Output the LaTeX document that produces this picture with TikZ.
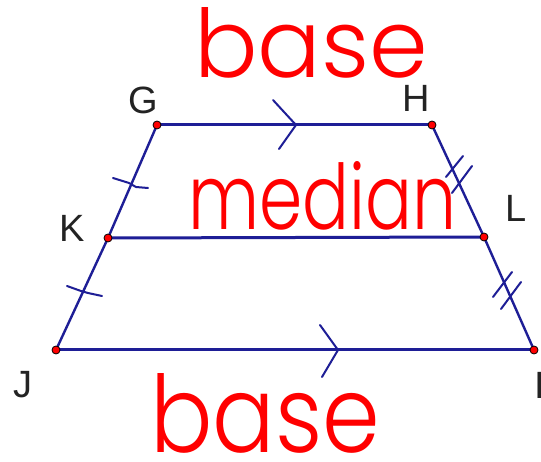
\documentclass[tikz,border=0pt]{standalone}
\usepackage{fontspec}
\newfontfamily\labfont{Liberation Sans}
\newfontfamily\handfont{Poppins Light}
\definecolor{geoblue}{RGB}{30,30,150}
\definecolor{handred}{RGB}{255,0,0}
\definecolor{labgray}{RGB}{35,35,35}
\begin{document}
\begin{tikzpicture}[x=1pt,y=-1pt,
  ptmark/.style={circle,fill=red,draw=black,line width=0.8pt,inner sep=0pt,minimum size=8pt},
  baseseg/.style={draw=geoblue,line width=3pt},
  sideseg/.style={draw=geoblue,line width=2.4pt},
  tickmark/.style={draw=geoblue,line width=2pt,line cap=round},
  lab/.style={font=\labfont\fontsize{38}{38}\selectfont,text=labgray,inner sep=0pt},
  hand/.style={font=\handfont\fontsize{100}{100}\selectfont,text=handred,inner sep=0pt,anchor=base west}]
\useasboundingbox (0,0) rectangle (541,462);
\fill[white] (0,0) rectangle (541,462);
% vertices
\coordinate (G) at (157,125);
\coordinate (H) at (432,125);
\coordinate (K) at (108,238);
\coordinate (L) at (484,237);
\coordinate (J) at (56,350);
\coordinate (I) at (534,350);
% segments
\draw[baseseg] (G) -- (H);
\draw[baseseg] (K) -- (L);
\draw[baseseg] (J) -- (I);
\draw[sideseg] (G) -- (K) -- (J);
\draw[sideseg] (H) -- (L) -- (I);
% parallel arrows
\coordinate (a1) at (273,100); \coordinate (a2) at (296,125); \coordinate (a3) at (279,149);
\draw[tickmark] (a1) -- (a2) -- (a3);
\coordinate (b1) at (320,325); \coordinate (b2) at (338,350); \coordinate (b3) at (322,377);
\draw[tickmark] (b1) -- (b2) -- (b3);
% single ticks
\coordinate (t1a) at (113,178); \coordinate (t1b) at (129,183); \coordinate (t1c) at (136,187); \coordinate (t1d) at (148,188);
\draw[tickmark] (t1a) -- (t1b) -- (t1c) -- (t1d);
\coordinate (t2a) at (67,286); \coordinate (t2b) at (81,291); \coordinate (t2c) at (88,293); \coordinate (t2d) at (102,296);
\draw[tickmark] (t2a) -- (t2b) -- (t2c) -- (t2d);
% double ticks
\coordinate (d1a) at (446,177); \coordinate (d1b) at (463,156);
\coordinate (d2a) at (452,193); \coordinate (d2b) at (472,166);
\draw[tickmark] (d1a) -- (d1b);
\draw[tickmark] (d2a) -- (d2b);
\coordinate (e1a) at (493,297); \coordinate (e1b) at (512,272);
\coordinate (e2a) at (501,309); \coordinate (e2b) at (521,282);
\draw[tickmark] (e1a) -- (e1b);
\draw[tickmark] (e2a) -- (e2b);
% vertex markers
\foreach \p in {G,H,K,L,J,I} \node[ptmark] (m\p) at (\p) {};
% labels
\node[lab] (lG) at (143,100) {G};
\node[lab] (lH) at (416,98) {H};
\node[lab] (lK) at (72,228) {K};
\node[lab] (lL) at (516,208) {L};
\node[lab] (lJ) at (23,385) {J};
\node[lab,anchor=west] (lI) at (534.5,385) {I};
% handwritten words
\node[hand] (base1) at (194,78) {\resizebox{234pt}{70pt}{base}};
\node[hand] (median) at (188,230) {\resizebox{268pt}{68pt}{median}};
\node[hand] (base2) at (150,452) {\resizebox{230pt}{79pt}{base}};
\end{tikzpicture}
\end{document}
